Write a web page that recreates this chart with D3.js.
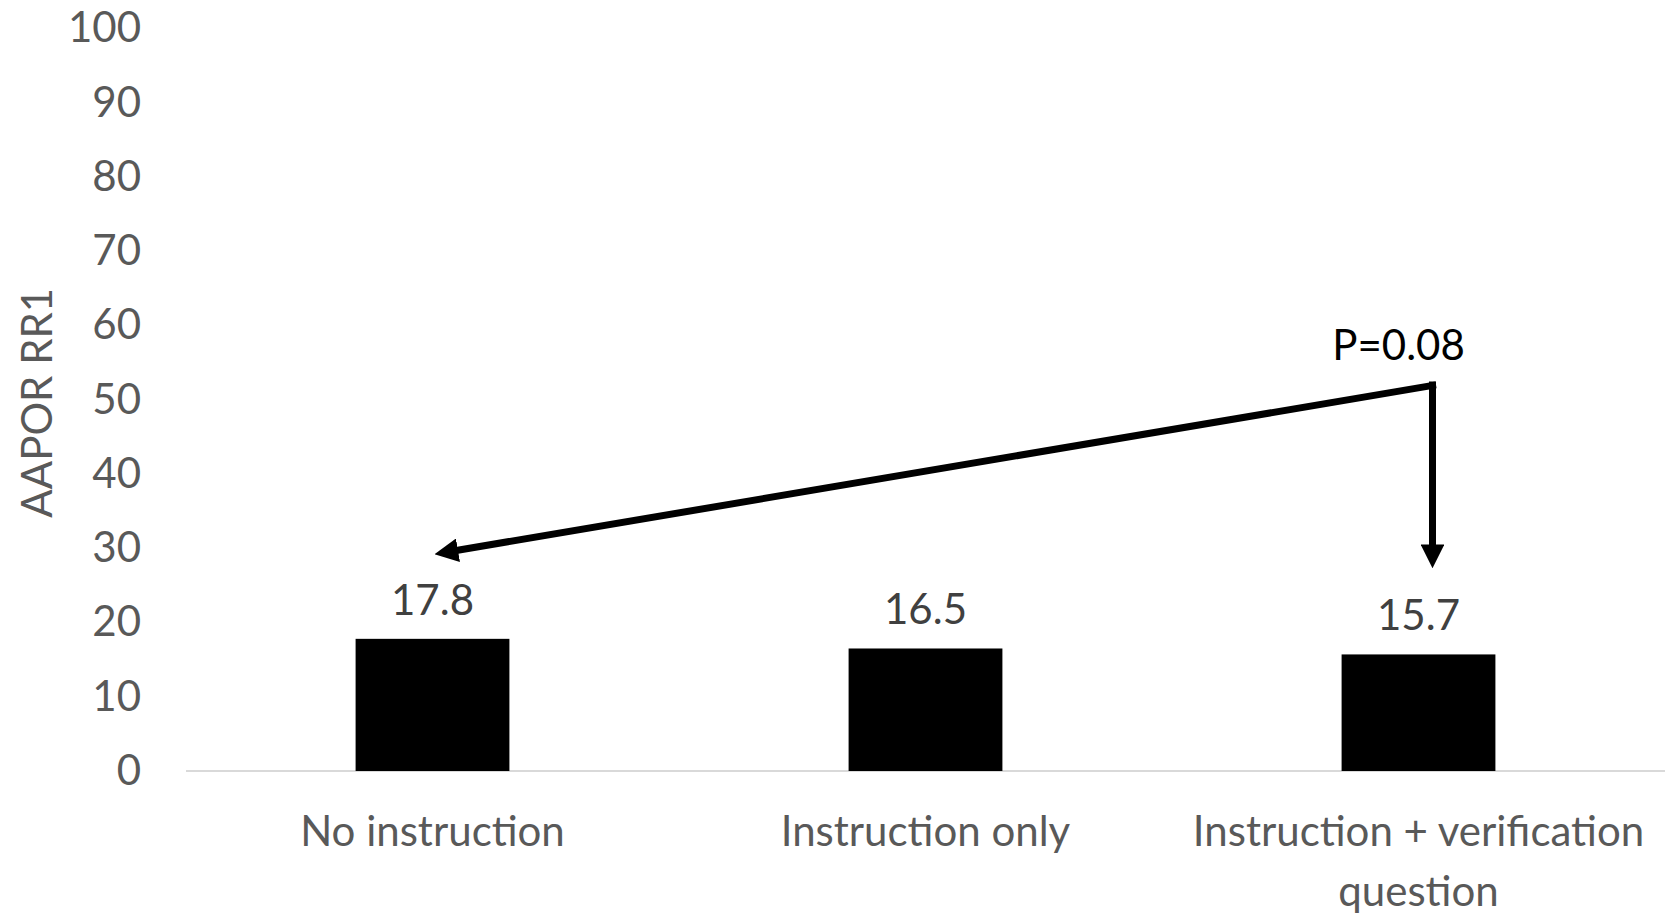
<!DOCTYPE html>
<html>
<head>
<meta charset="utf-8">
<script src="https://cdn.jsdelivr.net/npm/d3@7"></script>
<style>
  body { margin: 0; background: #fff; }
  text { font-family: Lato, "Open Sans", sans-serif; }
</style>
</head>
<body>
<div id="chart"></div>
<script>
const categories = ["No instruction", "Instruction only", "Instruction + verification question"];
const categoryLines = [["No instruction"], ["Instruction only"], ["Instruction + verification", "question"]];
const values = [17.8, 16.5, 15.7];
const yTicks = [0, 10, 20, 30, 40, 50, 60, 70, 80, 90, 100];
const pLabel = "P=0.08";
// comparison arrow in data terms: from group 3 back to group 1
const arrowFrom = { cat: 2, top: 52, tip: 27.3 };
const arrowTo = { cat: 0, tip: 29.2 };

const width = 1665, height = 914;
const margin = { top: 28.5, right: 0, bottom: 143, left: 186 };
const fontSize = "42px";

const svg = d3.select("#chart")
  .append("svg")
    .attr("width", width)
    .attr("height", height);

const x = d3.scaleBand()
  .domain(categories)
  .range([margin.left, width - margin.right])
  .paddingInner(0.688)
  .paddingOuter(0.344);

const y = d3.scaleLinear()
  .domain([0, 100])
  .range([height - margin.bottom, margin.top]);

const yAxis = d3.axisLeft(y)
  .tickValues(yTicks)
  .tickSize(0)
  .tickPadding(45);

svg.append("g")
  .attr("transform", `translate(${margin.left},0)`)
  .call(yAxis)
  .call(g => g.select(".domain").remove())
  .call(g => g.selectAll("text")
    .attr("fill", "#595959")
    .style("font-size", fontSize));

// baseline
svg.append("line")
  .attr("x1", margin.left)
  .attr("x2", width - margin.right)
  .attr("y1", y(0))
  .attr("y2", y(0))
  .attr("stroke", "#d9d9d9")
  .attr("stroke-width", 2);

svg.selectAll("rect.bar")
  .data(values)
  .enter()
  .append("rect")
    .attr("class", "bar")
    .attr("x", (d, i) => x(categories[i]))
    .attr("y", d => y(d))
    .attr("width", x.bandwidth())
    .attr("height", d => y(0) - y(d))
    .attr("fill", "#000");

svg.selectAll("text.val")
  .data(values)
  .enter()
  .append("text")
    .attr("class", "val")
    .attr("x", (d, i) => x(categories[i]) + x.bandwidth() / 2)
    .attr("y", d => y(d) - 24)
    .attr("text-anchor", "middle")
    .attr("fill", "#404040")
    .style("font-size", fontSize)
    .text(d => d.toFixed(1));

// category labels
categoryLines.forEach((lines, i) => {
  const t = svg.append("text")
    .attr("x", x(categories[i]) + x.bandwidth() / 2)
    .attr("y", y(0) + 75)
    .attr("text-anchor", "middle")
    .attr("fill", "#595959")
    .style("font-size", fontSize);
  lines.forEach((l, j) => {
    t.append("tspan")
      .attr("x", x(categories[i]) + x.bandwidth() / 2)
      .attr("dy", j === 0 ? 0 : 60)
      .text(l);
  });
});

// y axis title
svg.append("text")
  .attr("transform", `translate(52,${y(50) + 3}) rotate(-90)`)
  .attr("text-anchor", "middle")
  .attr("fill", "#595959")
  .style("font-size", fontSize)
  .text("AAPOR RR1");

// arrow annotation
const defs = svg.append("defs");
defs.append("marker")
  .attr("id", "head")
  .attr("viewBox", "0 0 10 10")
  .attr("refX", 2)
  .attr("refY", 5)
  .attr("markerWidth", 3.4)
  .attr("markerHeight", 3.4)
  .attr("orient", "auto")
  .append("path")
    .attr("d", "M0,0 L10,5 L0,10 Z")
    .attr("fill", "#000");

const strokeW = 7;
const headExt = 8 * 3.4 * strokeW / 10; // how far the head reaches past the line end
const cx = i => x(categories[i]) + x.bandwidth() / 2;
const cornerX = cx(arrowFrom.cat) + 14;

svg.append("path")
  .attr("d", d3.line()([
    [cornerX, y(arrowFrom.top) - strokeW / 2],
    [cornerX, y(arrowFrom.tip) - headExt]
  ]))
  .attr("stroke", "#000")
  .attr("stroke-width", strokeW)
  .attr("fill", "none")
  .attr("marker-end", "url(#head)");

const tipX = cx(arrowTo.cat) + 2;
const dx = tipX - cornerX, dy = y(arrowTo.tip) - y(arrowFrom.top);
const len = Math.hypot(dx, dy);
svg.append("path")
  .attr("d", d3.line()([
    [cornerX + strokeW / 2, y(arrowFrom.top)],
    [tipX - dx / len * headExt, y(arrowTo.tip) - dy / len * headExt]
  ]))
  .attr("stroke", "#000")
  .attr("stroke-width", strokeW)
  .attr("fill", "none")
  .attr("marker-end", "url(#head)");

svg.append("text")
  .attr("x", cornerX - 34)
  .attr("y", y(arrowFrom.top) - 25)
  .attr("text-anchor", "middle")
  .attr("fill", "#000")
  .style("font-size", fontSize)
  .text(pLabel);
</script>
</body>
</html>
